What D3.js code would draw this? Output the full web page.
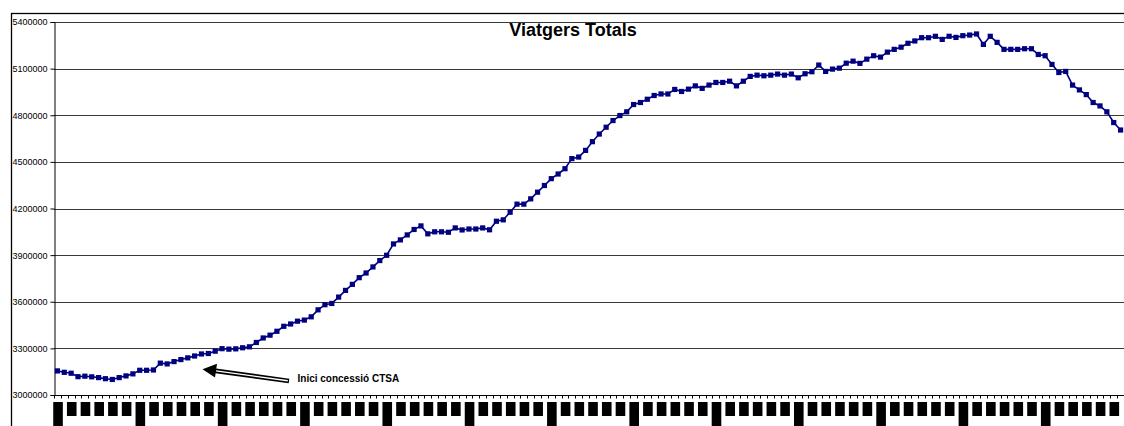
<!DOCTYPE html>
<html>
<head>
<meta charset="utf-8">
<script src="https://cdn.jsdelivr.net/npm/d3@7"></script>
<style>
  html, body { margin: 0; padding: 0; background: #fff; }
  svg { display: block; }
</style>
</head>
<body>
<svg id="chart" width="1124" height="426"></svg>
<script>
// ---- data ----
const title = "Viatgers Totals";
const annotationText = "Inici concessió CTSA";
const years = ["90","91","92","93","94","95","96","97","98","99","00","01","02"];
const months = ["gen","febr","març","abr","maig","juny","jul","ag","set","oct","nov","des"];
const categories = [];
years.forEach(yr => months.forEach(m => categories.push(m + "-" + yr)));

const viatgers = [
  3155000,3146000,3140000,3118000,3121000,3117000,3112000,3105000,3100000,3112000,3123000,3136000,
  3159000,3159000,3161000,3205000,3200000,3215000,3228000,3239000,3251000,3264000,3267000,3282000,
  3298000,3295000,3297000,3304000,3310000,3338000,3367000,3385000,3410000,3442000,3457000,3475000,
  3482000,3503000,3548000,3581000,3589000,3630000,3673000,3712000,3755000,3785000,3824000,3865000,
  3899000,3972000,3998000,4030000,4065000,4088000,4037000,4050000,4050000,4047000,4075000,4062000,
  4068000,4068000,4075000,4063000,4118000,4127000,4176000,4228000,4228000,4262000,4305000,4348000,
  4392000,4422000,4456000,4521000,4531000,4574000,4630000,4679000,4723000,4766000,4798000,4822000,
  4869000,4882000,4903000,4927000,4937000,4937000,4966000,4953000,4968000,4989000,4973000,4994000,
  5011000,5011000,5019000,4989000,5019000,5050000,5058000,5054000,5058000,5065000,5058000,5065000,
  5041000,5067000,5080000,5123000,5082000,5097000,5103000,5135000,5148000,5134000,5161000,5183000,
  5174000,5206000,5224000,5238000,5263000,5278000,5299000,5299000,5308000,5288000,5308000,5301000,
  5312000,5316000,5323000,5256000,5308000,5269000,5224000,5224000,5224000,5228000,5228000,5191000,
  5183000,5127000,5075000,5082000,4994000,4963000,4933000,4882000,4860000,4822000,4753000,4705000
];
const yTicks = [3000000,3300000,3600000,3900000,4200000,4500000,4800000,5100000,5400000];

// ---- layout ----
const svg = d3.select("#chart");
const L = 54, R = 1124, T = 22, B = 395;
const navy = "#000080";

const x = d3.scaleBand().domain(categories).range([L, R]).padding(0);
const y = d3.scaleLinear().domain([3000000, 5400000]).range([B, T]);
const cx = c => x(c) + x.bandwidth() / 2;

// outer frame
svg.append("rect").attr("x", 11.5).attr("y", 13.5).attr("width", 1130).attr("height", 430)
  .attr("fill", "none").attr("stroke", "#000").attr("stroke-width", 1.3);

// gridlines
svg.append("g").selectAll("line").data(yTicks).join("line")
  .attr("x1", L).attr("x2", R)
  .attr("y1", d => Math.round(y(d)) + 0.5).attr("y2", d => Math.round(y(d)) + 0.5)
  .attr("stroke", "#3a3a3a").attr("stroke-width", 1.2);

// y axis
const yAxis = svg.append("g").attr("transform", `translate(${L + 0.5},0)`)
  .call(d3.axisLeft(y).tickValues(yTicks).tickSize(4).tickPadding(3).tickFormat(d3.format("d")));
yAxis.select(".domain").attr("stroke", "#000");
yAxis.selectAll(".tick line").attr("stroke", "#000");
yAxis.selectAll("text").attr("font-family", "Liberation Sans, Arial, sans-serif")
  .attr("font-size", 9).attr("fill", "#000");

// x axis line and boundary ticks
const xg = svg.append("g");
xg.append("line").attr("x1", L).attr("x2", R).attr("y1", B + 0.5).attr("y2", B + 0.5)
  .attr("stroke", "#000").attr("stroke-width", 1.2);
xg.selectAll("line.tk").data(categories).join("line").attr("class", "tk")
  .attr("x1", d => Math.round(x(d)) + 0.5).attr("x2", d => Math.round(x(d)) + 0.5)
  .attr("y1", B).attr("y2", B + 3.5).attr("stroke", "#000");

// category label blocks (illegible labels in the original, every other month)
const shown = categories.filter((c, i) => i % 2 === 0);
xg.selectAll("rect.lbl").data(shown).join("rect").attr("class", "lbl")
  .attr("x", d => cx(d) - 4.2)
  .attr("y", 402)
  .attr("width", 9.6)
  .attr("height", d => d.startsWith("gen") ? 26 : 14)
  .attr("fill", "#000");

// line
const pts = categories.map((c, i) => [cx(c), y(viatgers[i])]);
svg.append("path").attr("d", d3.line()(pts))
  .attr("fill", "none").attr("stroke", navy).attr("stroke-width", 1.6);
svg.append("g").selectAll("rect").data(pts).join("rect")
  .attr("x", d => d[0] - 2.6).attr("y", d => d[1] - 2.6)
  .attr("width", 5.2).attr("height", 5.2).attr("fill", navy);

// title
svg.append("text").attr("x", 573).attr("y", 36).attr("text-anchor", "middle")
  .attr("font-family", "Liberation Sans, Arial, sans-serif").attr("font-weight", "bold")
  .attr("font-size", 18).attr("fill", "#000").text(title);

// annotation arrow
const ann = svg.append("g");
ann.append("line").attr("x1", 214).attr("y1", 370.6).attr("x2", 289).attr("y2", 381)
  .attr("stroke", "#000").attr("stroke-width", 4.6);
ann.append("line").attr("x1", 216).attr("y1", 370.9).attr("x2", 287.8).attr("y2", 380.8)
  .attr("stroke", "#fff").attr("stroke-width", 1.4);
ann.append("path").attr("d", "M202.5,369.3 L217,363.8 L215,377.6 Z").attr("fill", "#000");
ann.append("text").attr("x", 297.5).attr("y", 382)
  .attr("font-family", "Liberation Sans, Arial, sans-serif").attr("font-weight", "bold")
  .attr("font-size", 10).attr("fill", "#000").text(annotationText);
</script>
</body>
</html>
